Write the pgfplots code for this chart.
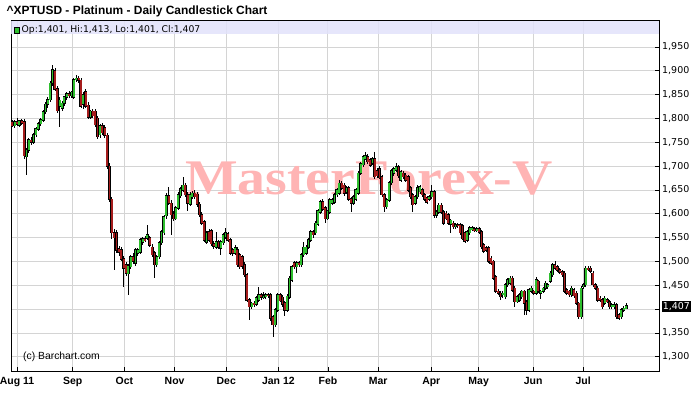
\documentclass[border=0pt]{standalone}
\usepackage{fontspec}
\setmainfont{Liberation Sans}
\newfontfamily\dejavu{DejaVu Sans}
\newfontfamily\wmfont{Liberation Serif}
\usepackage{pgfplots}
\pgfplotsset{compat=1.18}
\usepackage{pgfplotstable}
\definecolor{cgreen}{RGB}{46,190,46}
\definecolor{cred}{RGB}{165,28,28}
\definecolor{bandc}{RGB}{226,226,250}
\definecolor{gridc}{RGB}{212,212,212}
\definecolor{wmc}{RGB}{255,180,180}

% rising days (close >= open)
\pgfplotstableread{
i o h l c
-1 1785 1797 1780 1793
1 1786 1797 1782 1795
4 1720 1738 1681 1733
5 1733 1758 1728 1755
7 1750 1770 1746 1766
8 1766 1782 1762 1778
9 1778 1792 1774 1789
10 1789 1800 1784 1797
11 1797 1818 1792 1814
12 1814 1834 1810 1830
13 1830 1845 1822 1839
14 1839 1878 1835 1874
15 1874 1912 1868 1902
18 1826 1844 1783 1838
19 1822 1836 1815 1832
20 1832 1848 1826 1845
21 1845 1856 1838 1852
23 1848 1858 1842 1855
24 1845 1885 1840 1881
25 1881 1891 1876 1884
28 1830 1856 1820 1850
31 1803 1818 1798 1815
35 1766 1788 1760 1784
47 1474 1494 1430 1490
48 1489 1514 1484 1510
50 1497 1528 1490 1524
51 1518 1528 1512 1524
52 1520 1549 1516 1545
53 1540 1552 1534 1547
55 1549 1577 1544 1556
59 1493 1514 1488 1510
60 1510 1543 1506 1539
61 1539 1566 1534 1562
62 1560 1598 1555 1594
63 1596 1644 1590 1638
67 1590 1616 1586 1612
68 1612 1645 1608 1640
69 1638 1656 1634 1652
70 1650 1677 1645 1660
73 1620 1645 1616 1640
74 1636 1648 1630 1643
80 1541 1564 1536 1560
84 1530 1562 1526 1541
86 1528 1545 1514 1541
87 1539 1560 1535 1556
88 1552 1570 1548 1560
92 1518 1535 1513 1528
99 1405 1416 1400 1412
101 1410 1428 1406 1424
102 1419 1447 1415 1430
104 1425 1435 1421 1427
105 1427 1434 1422 1430
109 1367 1402 1362 1398
110 1398 1434 1394 1430
114 1398 1431 1394 1427
115 1425 1469 1421 1465
116 1461 1493 1457 1489
118 1489 1501 1475 1497
120 1493 1518 1489 1514
121 1514 1540 1510 1530
122 1518 1534 1514 1530
123 1530 1549 1526 1545
124 1545 1566 1541 1562
126 1560 1584 1556 1580
127 1578 1610 1574 1606
128 1604 1629 1600 1625
131 1590 1609 1586 1605
132 1604 1633 1600 1629
133 1622 1634 1618 1629
134 1625 1644 1620 1640
135 1640 1654 1636 1650
136 1643 1670 1640 1664
139 1646 1659 1642 1654
142 1622 1640 1618 1636
143 1630 1654 1626 1650
144 1643 1689 1640 1685
145 1685 1709 1681 1705
146 1703 1724 1699 1720
147 1716 1730 1712 1722
150 1706 1720 1702 1716
156 1615 1633 1610 1629
157 1629 1669 1625 1665
158 1665 1694 1660 1690
159 1685 1699 1680 1695
160 1692 1706 1688 1699
162 1670 1692 1666 1688
168 1622 1640 1618 1636
169 1636 1660 1632 1654
170 1646 1661 1642 1657
174 1630 1640 1626 1636
175 1636 1660 1632 1646
177 1597 1608 1592 1604
178 1604 1622 1600 1618
183 1578 1590 1560 1586
185 1573 1581 1569 1577
190 1545 1566 1541 1562
191 1560 1574 1556 1570
192 1568 1574 1564 1570
194 1566 1572 1562 1568
205 1430 1437 1424 1433
206 1426 1455 1422 1451
207 1451 1465 1447 1461
208 1455 1469 1451 1465
211 1416 1430 1412 1426
212 1419 1434 1415 1430
213 1426 1441 1422 1437
216 1398 1444 1394 1440
217 1437 1448 1433 1444
219 1433 1468 1429 1461
221 1433 1441 1422 1437
222 1437 1447 1433 1444
223 1444 1458 1440 1454
224 1447 1455 1443 1451
225 1458 1479 1454 1475
226 1472 1497 1468 1493
234 1430 1448 1426 1444
238 1384 1448 1380 1444
239 1447 1455 1443 1451
240 1451 1490 1447 1486
248 1412 1427 1408 1423
251 1405 1413 1401 1409
252 1405 1416 1401 1409
255 1384 1402 1380 1398
256 1398 1406 1394 1402
257 1401 1413 1401 1407
}\bull

% falling days (close < open)
\pgfplotstableread{
i o h l c
-2 1792 1796 1782 1785
0 1793 1800 1784 1788
2 1795 1799 1786 1790
3 1793 1798 1716 1722
6 1754 1762 1744 1750
16 1900 1906 1858 1862
17 1862 1868 1812 1816
22 1852 1858 1842 1848
26 1884 1890 1874 1880
27 1880 1884 1822 1826
29 1856 1862 1822 1826
30 1828 1834 1798 1803
32 1815 1820 1800 1806
33 1815 1820 1782 1787
34 1800 1806 1756 1762
36 1784 1790 1766 1770
37 1780 1786 1760 1765
38 1765 1770 1695 1700
39 1700 1706 1625 1630
40 1630 1636 1548 1560
41 1560 1568 1482 1550
42 1560 1566 1518 1524
43 1526 1532 1512 1520
44 1524 1530 1500 1505
45 1505 1512 1447 1486
46 1493 1498 1470 1476
49 1510 1518 1494 1500
54 1547 1553 1541 1545
56 1549 1554 1530 1534
57 1530 1536 1510 1514
58 1518 1522 1465 1493
64 1638 1657 1618 1622
65 1622 1628 1556 1598
66 1600 1606 1584 1590
71 1660 1664 1636 1640
72 1640 1645 1605 1622
75 1643 1650 1632 1636
76 1641 1646 1615 1620
77 1620 1625 1594 1598
78 1598 1603 1576 1580
79 1583 1588 1540 1545
81 1562 1568 1540 1545
82 1564 1569 1532 1537
83 1537 1542 1527 1532
85 1541 1545 1526 1530
89 1558 1562 1540 1545
90 1545 1550 1514 1518
91 1524 1528 1512 1518
93 1524 1530 1488 1493
94 1514 1518 1484 1489
95 1510 1514 1485 1490
96 1493 1498 1468 1472
97 1472 1476 1415 1419
98 1419 1424 1377 1405
100 1412 1418 1404 1410
103 1430 1434 1420 1425
106 1430 1434 1424 1428
107 1430 1434 1376 1381
108 1384 1388 1342 1367
111 1430 1434 1414 1418
112 1425 1430 1405 1410
113 1413 1418 1385 1398
117 1497 1502 1485 1489
119 1497 1502 1488 1493
125 1562 1567 1550 1556
129 1625 1630 1605 1610
130 1612 1616 1580 1590
137 1664 1668 1650 1654
138 1660 1664 1638 1643
140 1654 1658 1626 1630
141 1632 1636 1604 1622
148 1720 1725 1705 1709
149 1713 1717 1698 1702
151 1716 1730 1674 1678
152 1690 1696 1676 1680
153 1695 1700 1672 1676
154 1678 1682 1636 1640
155 1640 1644 1604 1615
161 1699 1703 1676 1680
163 1685 1690 1674 1678
164 1681 1686 1667 1671
165 1678 1682 1646 1650
166 1654 1658 1632 1636
167 1640 1644 1604 1619
171 1650 1654 1636 1640
172 1640 1644 1626 1630
173 1633 1637 1621 1625
176 1646 1650 1592 1597
179 1618 1622 1600 1604
180 1604 1608 1576 1580
181 1601 1605 1586 1590
182 1598 1602 1576 1580
184 1580 1584 1569 1573
186 1577 1581 1570 1575
187 1577 1581 1556 1560
188 1575 1579 1544 1548
189 1560 1564 1539 1543
193 1568 1572 1562 1566
195 1568 1572 1558 1562
196 1562 1566 1527 1531
197 1535 1539 1517 1521
198 1528 1532 1520 1524
199 1528 1532 1496 1500
200 1507 1511 1492 1496
201 1500 1504 1461 1465
202 1468 1472 1433 1437
203 1437 1442 1429 1433
204 1433 1437 1420 1426
209 1465 1469 1436 1440
210 1444 1448 1405 1416
214 1437 1441 1388 1412
215 1416 1420 1388 1398
218 1437 1441 1429 1433
220 1458 1462 1433 1437
227 1493 1500 1482 1486
228 1489 1493 1478 1482
229 1482 1486 1474 1478
230 1478 1482 1468 1472
231 1475 1479 1433 1437
232 1440 1444 1429 1433
233 1437 1441 1426 1430
235 1440 1444 1424 1428
236 1433 1437 1408 1412
237 1412 1416 1380 1384
241 1486 1490 1480 1484
242 1486 1490 1475 1479
243 1475 1479 1447 1451
244 1451 1455 1440 1444
245 1444 1448 1415 1419
246 1423 1427 1415 1419
247 1419 1423 1401 1405
249 1419 1423 1412 1416
250 1416 1420 1401 1405
253 1409 1413 1380 1384
254 1388 1392 1377 1381
}\bear

\pgfplotsset{
  ebar/.style 2 args={draw=none, mark=none, forget plot,
    error bars/.cd, y dir=both, y explicit, error mark=none,
    error bar style={draw=#1, line width=#2, line cap=butt}},
}

\begin{document}
\begin{tikzpicture}
\useasboundingbox (-11bp,-26bp) rectangle (688bp,371bp);
\begin{axis}[
  scale only axis, width=648bp, height=350bp,
  xmin=-2.53, xmax=270.9, ymin=1270.2, ymax=2004.5,
  clip=false,
  axis line style={black, line width=1bp},
  grid=major, grid style={gridc, line width=0.9bp},
  xtick={0,23.5,45.3,66.5,88.3,110.3,131.2,152.4,174.8,194.8,217.8,238.9},
  xticklabels={Aug 11,Sep,Oct,Nov,Dec,Jan 12,Feb,Mar,Apr,May,Jun,Jul},
  ytick={1300,1350,1400,1450,1500,1550,1600,1650,1700,1750,1800,1850,1900,1950},
  yticklabels={{1,300},{1,350},{},{1,450},{1,500},{1,550},{1,600},{1,650},{1,700},{1,750},{1,800},{1,850},{1,900},{1,950}},
  xtick pos=left, ytick pos=right,
  yticklabel pos=right,
  tick align=inside,
  major tick length=4bp,
  tick style={black, line width=0.8bp},
  yticklabel style={font=\dejavu\fontsize{9.5}{11}\selectfont, anchor=west, inner sep=0pt, xshift=3bp},
  xticklabel style={font=\bfseries\fontsize{10.5}{12}\selectfont, anchor=north, inner sep=0pt, yshift=-6bp},
]
\fill[bandc, fill opacity=0.85] (axis cs:-2.53,1977.3) rectangle (axis cs:270.9,2004.5);
\node[text=wmc, anchor=base, inner sep=0pt, font=\wmfont\bfseries\fontsize{50}{56}\selectfont] at (axis cs:148.5,1639.5) {\scalebox{1.12}[1]{MasterForex-V}};
% wicks
\addplot[ebar={black}{0.75bp}] table[x=i, y expr={0.5*(\thisrow{h}+\thisrow{l})}, y error expr={0.5*(\thisrow{h}-\thisrow{l})}] {\bull};
\addplot[ebar={black}{0.75bp}] table[x=i, y expr={0.5*(\thisrow{h}+\thisrow{l})}, y error expr={0.5*(\thisrow{h}-\thisrow{l})}] {\bear};
% body outlines
\addplot[ebar={black}{3.0bp}] table[x=i, y expr={0.5*(\thisrow{o}+\thisrow{c})}, y error expr={0.5*(\thisrow{c}-\thisrow{o})+1.3}] {\bull};
\addplot[ebar={black}{3.0bp}] table[x=i, y expr={0.5*(\thisrow{o}+\thisrow{c})}, y error expr={0.5*(\thisrow{o}-\thisrow{c})+1.3}] {\bear};
% body fills
\addplot[ebar={cgreen}{1.8bp}] table[x=i, y expr={0.5*(\thisrow{o}+\thisrow{c})}, y error expr={0.5*(\thisrow{c}-\thisrow{o})}] {\bull};
\addplot[ebar={cred}{1.8bp}] table[x=i, y expr={0.5*(\thisrow{o}+\thisrow{c})}, y error expr={0.5*(\thisrow{o}-\thisrow{c})}] {\bear};
\node[fill=black, text=white, anchor=west, inner xsep=1.2bp, inner ysep=1.5bp, font=\dejavu\fontsize{9.5}{11}\selectfont] at (axis cs:270.9,1405) [xshift=2.5bp] {1,407};
\end{axis}
\node[anchor=base west, inner sep=0pt, font=\bfseries\fontsize{12}{14}\selectfont] at (-4.5bp,356bp) {\textasciicircum XPTUSD - Platinum - Daily Candlestick Chart};
\draw[black, line width=0.5bp, fill=cgreen] (3bp,338bp) rectangle (8.5bp,343.5bp);
\node[anchor=west, inner sep=0pt, font=\dejavu\fontsize{9.3}{10}\selectfont] at (10.5bp,340.8bp) {Op:1,401, Hi:1,413, Lo:1,401, Cl:1,407};
\node[anchor=west, inner sep=0pt, font=\fontsize{10.4}{12}\selectfont] at (12bp,14bp) {(c) Barchart.com};
\end{tikzpicture}
\end{document}
